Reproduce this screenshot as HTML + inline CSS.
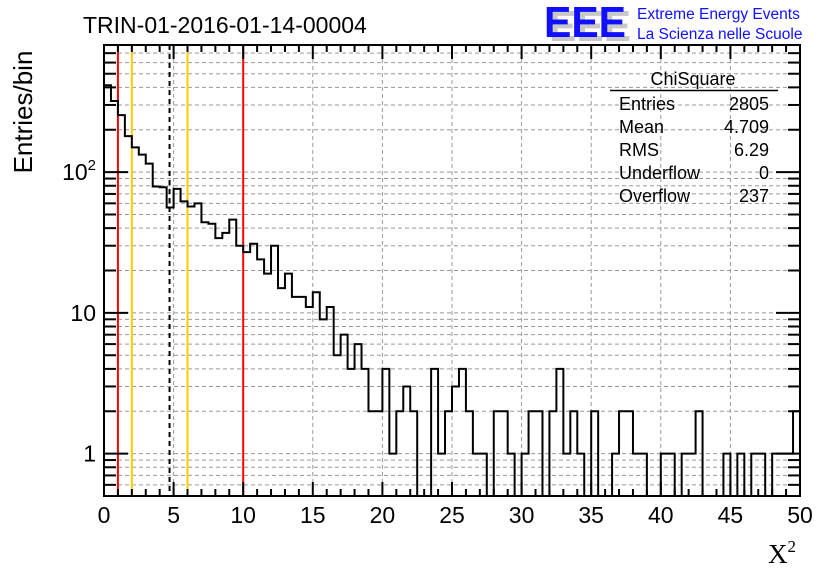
<!DOCTYPE html>
<html><head><meta charset="utf-8"><style>
body{margin:0;background:#fff;}
svg{display:block;font-family:"Liberation Sans",sans-serif;}
</style></head><body>
<svg id="c" width="836" height="572" viewBox="0 0 836 572">
<rect width="836" height="572" fill="#fff"/>
<g id="grid"></g>
<g id="lines"></g>
<g id="hist"></g>
<g id="axes"></g>
<text x="83" y="33" font-size="23">TRIN-01-2016-01-14-00004</text>
<g>
<text x="549" y="41" font-size="44" font-weight="bold" fill="#c8c8c8" textLength="82" lengthAdjust="spacingAndGlyphs">EEE</text>
<text x="544" y="37" font-size="44" font-weight="bold" fill="#1010ff" textLength="82" lengthAdjust="spacingAndGlyphs">EEE</text>
<text x="637" y="19" font-size="15.5" fill="#1010ff">Extreme Energy Events</text>
<text x="637" y="39" font-size="15.5" fill="#1010ff">La Scienza nelle Scuole</text>
</g>
<g font-size="18">
<text x="693" y="85" text-anchor="middle">ChiSquare</text>
<line x1="610" y1="90.5" x2="778" y2="90.5" stroke="#000" stroke-width="1.5"/>
<text x="619" y="110">Entries</text><text x="769" y="110" text-anchor="end">2805</text>
<text x="619" y="133">Mean</text><text x="769" y="133" text-anchor="end">4.709</text>
<text x="619" y="156">RMS</text><text x="769" y="156" text-anchor="end">6.29</text>
<text x="619" y="179">Underflow</text><text x="769" y="179" text-anchor="end">0</text>
<text x="619" y="202">Overflow</text><text x="769" y="202" text-anchor="end">237</text>
</g>
<text transform="translate(32,112) rotate(-90)" text-anchor="middle" font-size="26">Entries/bin</text>
<text x="768" y="563" font-size="27" font-family="Liberation Serif,serif">X<tspan font-size="17" dy="-11">2</tspan></text>
</svg>
<script>
const counts=[414,320,254,180,150,133,115,79,78,56,76,62,57,60,44,43,34,37,46,30,27,31,24,19,30,15,19,13,13,11,14,9,11,5,7,4,6,4,2,2,4,1,2,3,2,0,0,4,1,2,3,4,2,1,1,0,2,2,1,0,1,2,2,0,2,4,1,2,1,0,2,0,0,1,2,2,1,1,0,0,1,1,0,1,1,2,0,0,0,1,0,1,0,1,1,0,1,1,1,2];
const xMin=0,xMax=50,binW=0.5;
const yMin=0.5,yMax=800;
const xTicks=[0,5,10,15,20,25,30,35,40,45,50];
const yTickLabels=["1","10","10"];
const yTickSup=["","","2"];
const yTickVals=[1,10,100];
const refLines=[{v:1,c:"#ff0000",d:""},{v:2,c:"#ffcc00",d:""},{v:4.709,c:"#000",d:"5,4"},{v:6,c:"#ffcc00",d:""},{v:10,c:"#ff0000",d:""}];
const L=104,R=800,T=45,B=496;
const NS="http://www.w3.org/2000/svg";
const X=v=>L+(v-xMin)/(xMax-xMin)*(R-L);
const Y=v=>v<=0?B:B-(Math.log10(v)-Math.log10(yMin))/(Math.log10(yMax)-Math.log10(yMin))*(B-T);
function el(p,t,a){const e=document.createElementNS(NS,t);for(const k in a)e.setAttribute(k,a[k]);p.appendChild(e);return e;}
const grid=document.getElementById('grid');
for(const t of xTicks){if(t===xMin||t===xMax)continue;
 const g=el(grid,'line',{x1:X(t),x2:X(t),y1:T,y2:B,stroke:'#999','stroke-dasharray':'4,3','stroke-width':1});
 
 }
for(let d=-1;d<=2;d++)for(let m=1;m<10;m++){const v=m*Math.pow(10,d);if(v<=yMin||v>=yMax)continue;
 const g=el(grid,'line',{x1:L,x2:R,y1:Y(v),y2:Y(v),stroke:'#999','stroke-dasharray':'4,3','stroke-width':1});
 
 }
const lines=document.getElementById('lines');
for(const r of refLines){const l=el(lines,'line',{x1:X(r.v),x2:X(r.v),y1:T,y2:B,stroke:r.c,'stroke-width':2});
 if(r.d)l.setAttribute('stroke-dasharray',r.d);
 
 }
let d=`M${X(0)},${B}`;
counts.forEach((c,i)=>{const y=Y(c);d+=` L${X(i*binW)},${y} L${X((i+1)*binW)},${y}`;});
d+=` L${X(xMax)},${B}`;
const h=el(document.getElementById('hist'),'path',{d:d,fill:'none',stroke:'#000','stroke-width':2});


const ax=document.getElementById('axes');
const fr=el(ax,'rect',{x:L,y:T,width:R-L,height:B-T,fill:'none',stroke:'#000','stroke-width':2});


for(let v=xMin;v<=xMax;v+=1){const maj=v%5===0;
 el(ax,'line',{x1:X(v),x2:X(v),y1:B,y2:B-(maj?14:7),stroke:'#000','stroke-width':2});
 el(ax,'line',{x1:X(v),x2:X(v),y1:T,y2:T+(maj?14:7),stroke:'#000','stroke-width':2});}
for(const t of xTicks){const tx=el(ax,'text',{x:X(t),y:523,'text-anchor':'middle','font-size':23});tx.textContent=t;
 
 }
for(let dd=-1;dd<=2;dd++)for(let m=1;m<10;m++){const v=m*Math.pow(10,dd);if(v<yMin||v>yMax)continue;const maj=m===1;
 el(ax,'line',{x1:L,x2:L+(maj?24:12),y1:Y(v),y2:Y(v),stroke:'#000','stroke-width':2});
 el(ax,'line',{x1:R,x2:R-(maj?24:12),y1:Y(v),y2:Y(v),stroke:'#000','stroke-width':2});}
yTickVals.forEach((v,i)=>{const tx=el(ax,'text',{x:96,y:Y(v)+8,'text-anchor':'end','font-size':23});
 tx.textContent=yTickLabels[i];
 if(yTickSup[i]){const s=el(tx,'tspan',{'font-size':15,dy:-10});s.textContent=yTickSup[i];}
 
 });
</script>
</body></html>
